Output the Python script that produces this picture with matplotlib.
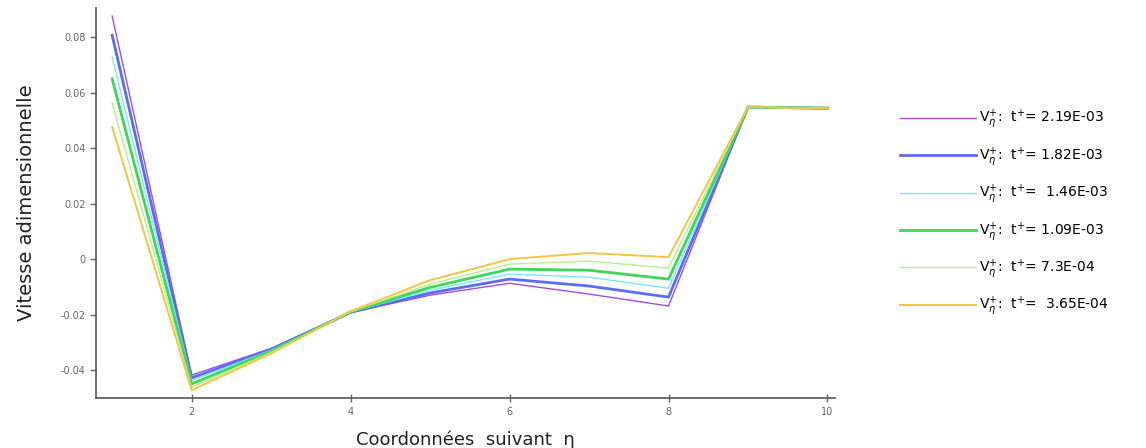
import matplotlib
matplotlib.use("Agg")
import matplotlib.pyplot as plt

# positions along eta
eta = [1, 2, 3, 4, 5, 6, 7, 8, 9, 10]

# velocity profiles, one per time step
v_219e3 = [0.0876, -0.0418, -0.0322, -0.0192, -0.0130, -0.0087, -0.0126, -0.0169, 0.0548, 0.0544]
v_182e3 = [0.0807, -0.0428, -0.0325, -0.0192, -0.0122, -0.0072, -0.0097, -0.0137, 0.0548, 0.0544]
v_146e3 = [0.0728, -0.0438, -0.0328, -0.0191, -0.0112, -0.0054, -0.0065, -0.0105, 0.0548, 0.0544]
v_109e3 = [0.0650, -0.0450, -0.0332, -0.0190, -0.0102, -0.0036, -0.0040, -0.0072, 0.0548, 0.0544]
v_73e4 = [0.0562, -0.0462, -0.0336, -0.0189, -0.0090, -0.0018, -0.0007, -0.0032, 0.0548, 0.0544]
v_365e4 = [0.0476, -0.0472, -0.0340, -0.0188, -0.0076, 0.0000, 0.0022, 0.0007, 0.0548, 0.0544]

series = [v_219e3, v_182e3, v_146e3, v_109e3, v_73e4, v_365e4]
times = ["2.19E-03", "1.82E-03", " 1.46E-03", "1.09E-03", "7.3E-04", " 3.65E-04"]
colors = ["#a24be8", "#5a6cf0", "#7ae8f4", "#3ed65a", "#b4f08c", "#f5c443"]
widths = [1.0, 2.0, 1.0, 2.0, 1.0, 1.4]

fig = plt.figure(figsize=(11.46, 4.48), dpi=100)
ax = fig.add_axes([0.084, 0.112, 0.645, 0.87])

for vals, t, c, w in zip(series, times, colors, widths):
    ax.plot(eta, vals, color=c, lw=w,
            label=r"$\mathregular{V}_{\eta}^{+}$:  t$^{+}$= " + t)

ax.set_xlim(0.8, 10.1)
ax.set_ylim(-0.050, 0.0905)
ax.set_xticks([2, 4, 6, 8, 10])
ax.set_yticks([-0.04, -0.02, 0, 0.02, 0.04, 0.06, 0.08])
ax.set_yticklabels(["-0.04", "-0.02", "0", "0.02", "0.04", "0.06", "0.08"])

for s in ["top", "right"]:
    ax.spines[s].set_visible(False)
for s in ["left", "bottom"]:
    ax.spines[s].set_color("#555555")
    ax.spines[s].set_linewidth(1.2)
ax.tick_params(axis="both", colors="#666666", labelsize=7, length=4, width=1)
ax.tick_params(axis="x", direction="inout", length=6)

ax.set_xlabel("Coordonnées  suivant  η", fontsize=13, color="#222222", labelpad=10)
ax.set_ylabel("Vitesse adimensionnelle", fontsize=14, color="#222222", labelpad=18)

leg = ax.legend(loc="upper left", bbox_to_anchor=(1.07, 0.775), frameon=False,
                handlelength=5.5, labelspacing=1.02, fontsize=10,
                handletextpad=0.2)

fig.savefig("out.png", dpi=100)
